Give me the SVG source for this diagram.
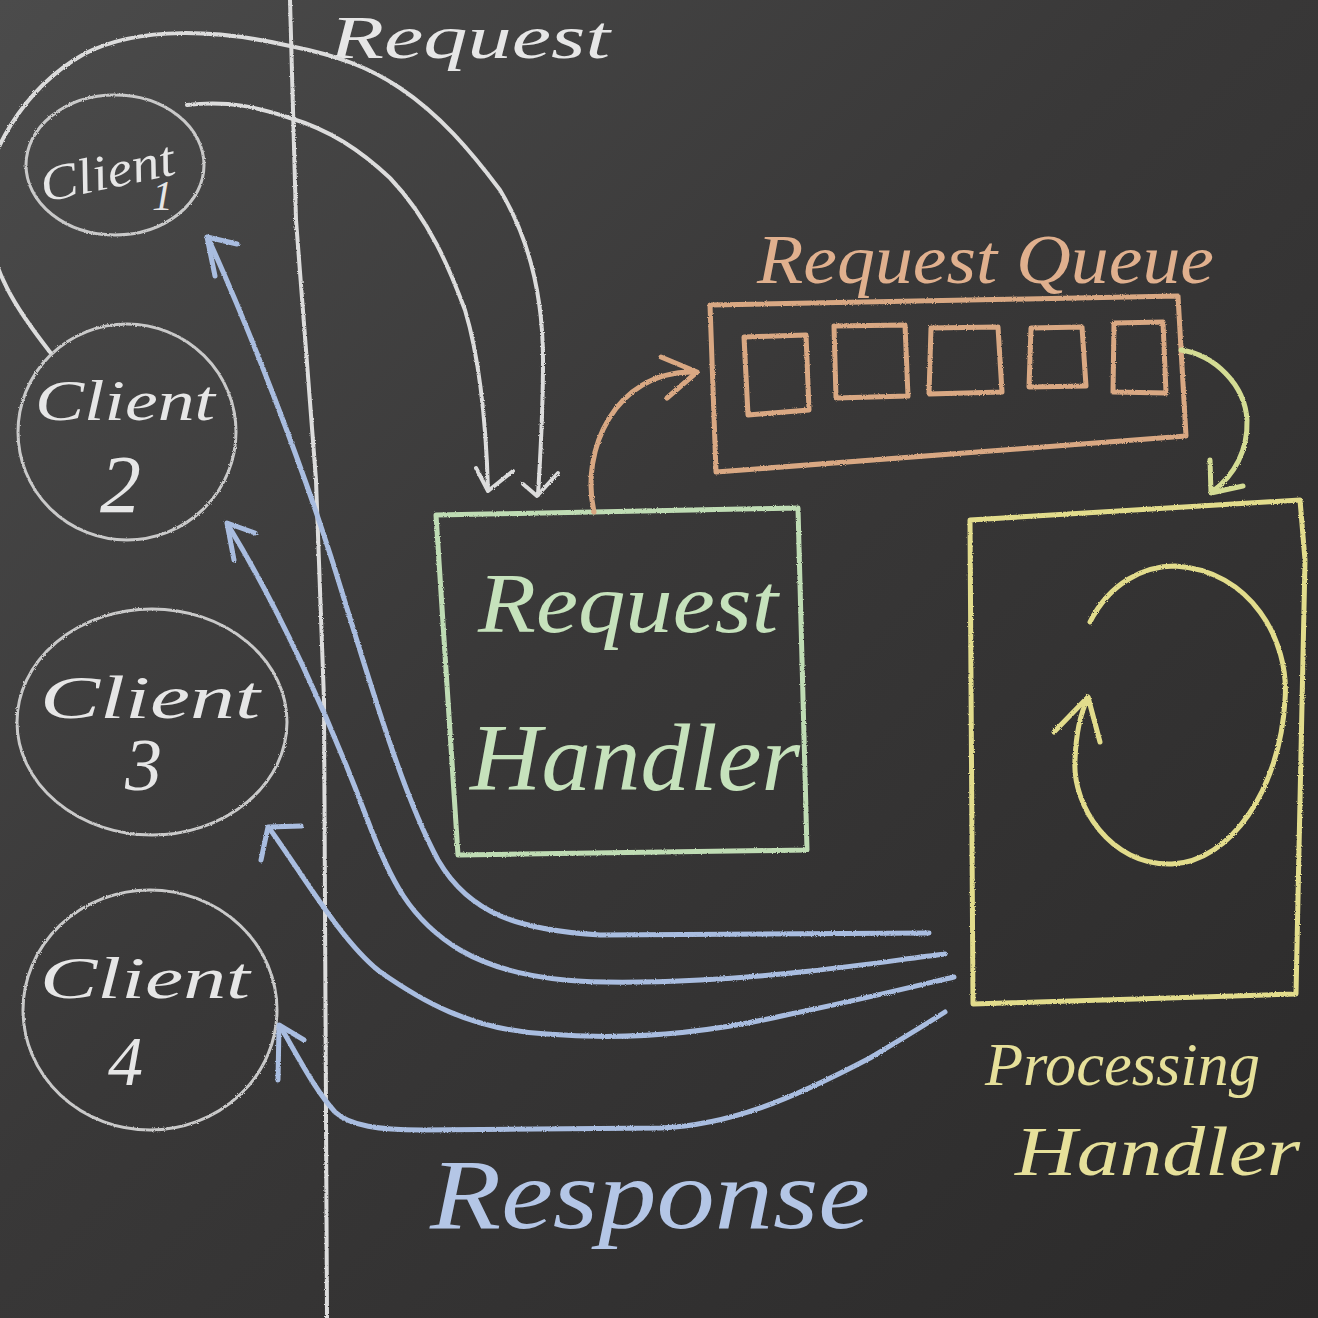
<svg xmlns="http://www.w3.org/2000/svg" width="1318" height="1318" viewBox="0 0 1318 1318">
<defs>
<linearGradient id="board" x1="0" y1="0" x2="1" y2="1">
<stop offset="0" stop-color="#4b4b4b"/>
<stop offset="0.45" stop-color="#393838"/>
<stop offset="1" stop-color="#2b2a2a"/>
</linearGradient>
<filter id="chalk" x="-5%" y="-5%" width="110%" height="110%">
<feTurbulence type="fractalNoise" baseFrequency="0.9" numOctaves="2" seed="3" result="n"/>
<feDisplacementMap in="SourceGraphic" in2="n" scale="2.5"/>
</filter>
<style>
.w{fill:none;stroke:#dcdcdc;stroke-width:4;stroke-linecap:round;stroke-linejoin:round}
.c{fill:none;stroke:#c9c9c9;stroke-width:3}
.b{fill:none;stroke:#a9bde0;stroke-width:5;stroke-linecap:round;stroke-linejoin:round}
.o{fill:none;stroke:#d9a883;stroke-width:5;stroke-linecap:round;stroke-linejoin:round}
.g{fill:none;stroke:#bfdcb4;stroke-width:5;stroke-linejoin:round}
.y{fill:none;stroke:#e2dc8c;stroke-width:5;stroke-linecap:round;stroke-linejoin:round}
.gy{fill:none;stroke:#d4dc94;stroke-width:5;stroke-linecap:round;stroke-linejoin:round}
text{font-family:"Liberation Serif","DejaVu Serif",serif;font-style:italic}
.tw{fill:#e6e6e6}
.tb{fill:#b4c6e6}
.to{fill:#e0b08e}
.tg{fill:#c6e2bc}
.ty{fill:#e6e09a}
</style>
</defs>
<rect width="1318" height="1318" fill="url(#board)"/>
<g id="divider" filter="url(#chalk)">
<path class="w" d="M290,0 L296,220 L316,480 L324,700 L327,1318"/>
</g>
<g id="label-request">
<text class="tw" x="330" y="58" font-size="62" textLength="280" lengthAdjust="spacingAndGlyphs">Request</text>
</g>
<g id="label-response">
<text class="tb" x="430" y="1228" font-size="100" textLength="440" lengthAdjust="spacingAndGlyphs">Response</text>
</g>
<g id="client1">
<ellipse class="c" cx="115" cy="165" rx="89" ry="70" filter="url(#chalk)"/>
<text class="tw" x="40" y="188" font-size="50" textLength="136" lengthAdjust="spacingAndGlyphs" transform="rotate(-12 110 176)">Client</text>
<text class="tw" x="152" y="210" font-size="42">1</text>
</g>
<g id="client2">
<ellipse class="c" cx="127" cy="432" rx="109" ry="108" filter="url(#chalk)"/>
<text class="tw" x="35" y="420" font-size="58" textLength="180" lengthAdjust="spacingAndGlyphs">Client</text>
<text class="tw" x="100" y="512" font-size="82">2</text>
</g>
<g id="client3">
<ellipse class="c" cx="152" cy="722" rx="135" ry="113" filter="url(#chalk)"/>
<text class="tw" x="40" y="718" font-size="62" textLength="220" lengthAdjust="spacingAndGlyphs">Client</text>
<text class="tw" x="125" y="790" font-size="74">3</text>
</g>
<g id="client4">
<ellipse class="c" cx="150" cy="1010" rx="127" ry="120" filter="url(#chalk)"/>
<text class="tw" x="40" y="998" font-size="60" textLength="210" lengthAdjust="spacingAndGlyphs">Client</text>
<text class="tw" x="108" y="1085" font-size="70">4</text>
</g>
<g id="request-queue">
<text class="to" x="757" y="283" font-size="70" textLength="457" lengthAdjust="spacingAndGlyphs">Request Queue</text>
<g filter="url(#chalk)">
<path class="o" d="M710,305 L1178,296 L1186,436 L716,472 Z"/>
<path class="o" d="M744,337 L806,335 L809,410 L748,415 Z"/>
<path class="o" d="M834,326 L905,325 L908,396 L836,398 Z"/>
<path class="o" d="M931,328 L998,327 L1002,392 L929,394 Z"/>
<path class="o" d="M1031,328 L1082,327 L1086,386 L1029,387 Z"/>
<path class="o" d="M1114,323 L1163,322 L1166,393 L1113,392 Z"/>
</g>
</g>
<g id="request-handler">
<path class="g" d="M436,515 L798,508 L807,850 L458,855 Z" filter="url(#chalk)"/>
<text class="tg" x="478" y="632" font-size="85" textLength="300" lengthAdjust="spacingAndGlyphs">Request</text>
<text class="tg" x="470" y="790" font-size="95" textLength="330" lengthAdjust="spacingAndGlyphs">Handler</text>
</g>
<g id="processing-handler">
<path class="y" d="M970,520 L1300,500 L1305,560 L1296,994 L973,1004 Z" filter="url(#chalk)"/>
<g filter="url(#chalk)">
<path class="y" d="M1090,622 C1110,582 1145,566 1175,566 C1250,570 1290,640 1285,700 C1280,790 1230,862 1172,864 C1110,866 1072,805 1075,760 C1076,732 1081,712 1088,698"/>
<path class="y" d="M1054,732 L1088,697 L1100,742"/>
</g>
<text class="ty" x="985" y="1085" font-size="62" textLength="275" lengthAdjust="spacingAndGlyphs">Processing</text>
<text class="ty" x="1015" y="1175" font-size="70" textLength="285" lengthAdjust="spacingAndGlyphs">Handler</text>
</g>
<g id="connectors" filter="url(#chalk)">
<path class="w" d="M50,352 C25,320 -15,270 -15,200 C-15,160 20,90 84,54 C140,25 220,30 290,46 C340,56 370,68 400,88 C440,115 470,150 500,190 C530,240 543,300 543,360 C543,420 540,460 538,495"/>
<path class="w" d="M523,484 L537,496 L558,473"/>
<path class="w" d="M187,105 C230,100 260,108 290,118 C330,130 360,150 390,178 C430,220 450,270 465,310 C480,360 486,420 488,490"/>
<path class="w" d="M476,468 L488,491 L513,471"/>
<path class="o" d="M594,512 C580,450 615,372 692,372"/>
<path class="o" d="M661,357 L697,372 L667,398"/>
<path class="gy" d="M1181,350 C1215,355 1245,385 1247,420 C1248,450 1235,475 1212,492"/>
<path class="gy" d="M1210,460 L1211,493 L1243,486"/>
<path class="b" d="M208,238 C250,330 300,460 332,560 C365,665 400,790 438,860 C470,915 520,930 600,935 L929,933"/>
<path class="b" d="M215,276 L207,237 L237,244"/>
<path class="b" d="M228,525 C280,610 330,720 366,816 C390,880 410,920 460,950 C520,985 600,985 700,980 C800,975 880,962 945,954"/>
<path class="b" d="M234,560 L227,523 L255,533"/>
<path class="b" d="M269,828 C300,870 340,940 379,971 C420,1000 470,1030 547,1034 C620,1040 700,1035 786,1015 C860,1000 920,985 954,977"/>
<path class="b" d="M261,860 L268,827 L301,826"/>
<path class="b" d="M280,1026 C300,1060 315,1090 335,1112 C350,1126 380,1130 421,1130 L660,1128 C730,1125 790,1100 870,1058 C900,1040 925,1025 945,1012"/>
<path class="b" d="M278,1080 L279,1025 L304,1040"/>
</g>
</svg>
